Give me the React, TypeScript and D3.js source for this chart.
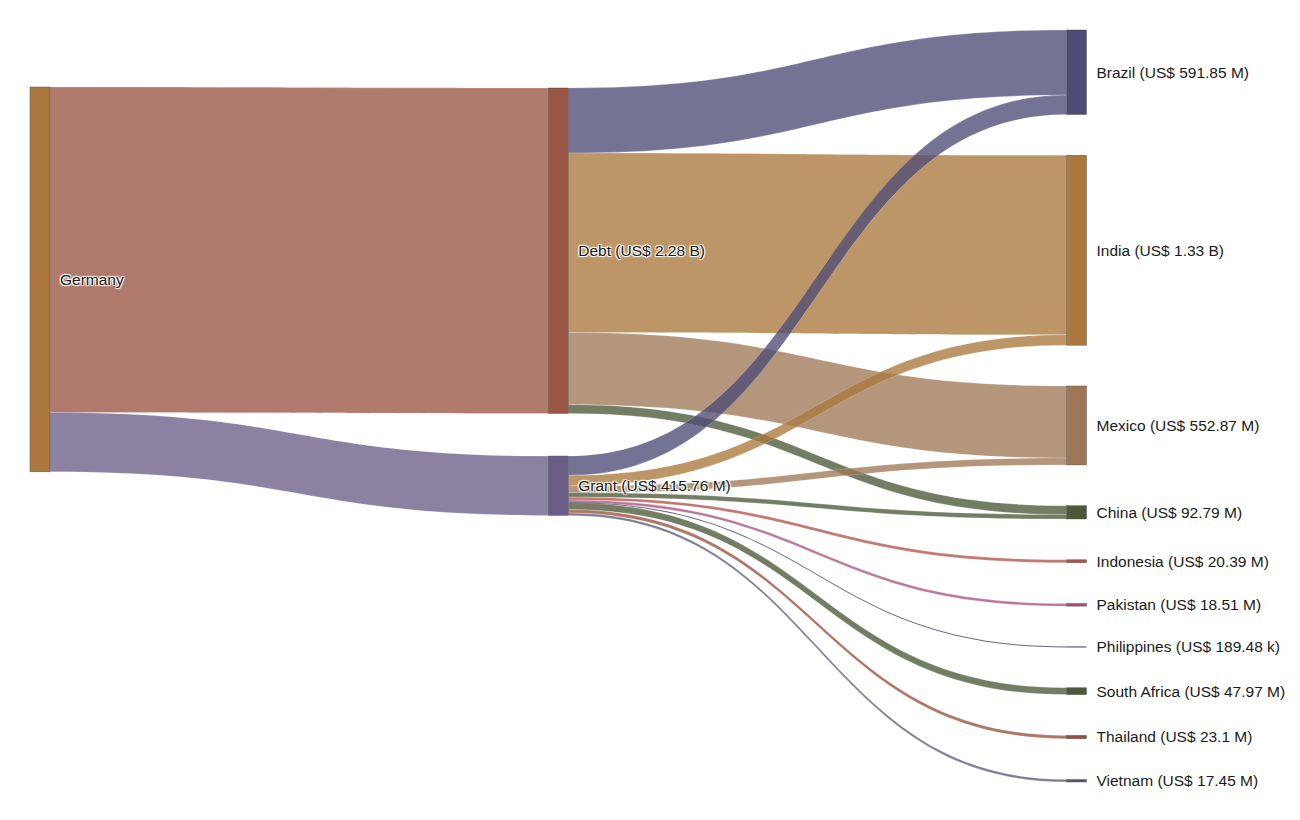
import React from "react";
import * as d3 from "d3";

// ---- Data ----
const nodeNames = [
  "Germany", "Debt", "Grant", "Brazil", "India", "Mexico", "China",
  "Indonesia", "Pakistan", "Philippines", "South Africa", "Thailand", "Vietnam",
];
const nodeLabels = [
  "Germany", "Debt (US$ 2.28 B)", "Grant (US$ 415.76 M)", "Brazil (US$ 591.85 M)",
  "India (US$ 1.33 B)", "Mexico (US$ 552.87 M)", "China (US$ 92.79 M)",
  "Indonesia (US$ 20.39 M)", "Pakistan (US$ 18.51 M)", "Philippines (US$ 189.48 k)",
  "South Africa (US$ 47.97 M)", "Thailand (US$ 23.1 M)", "Vietnam (US$ 17.45 M)",
];
const nodeColumns = [0, 1, 1, 2, 2, 2, 2, 2, 2, 2, 2, 2, 2];
const nodeColors = [
  "#ac783e", "#9a5644", "#6a5e86", "#4e4c74", "#ab783e", "#9e7856", "#4c5838",
  "#b45048", "#a8507a", "#3c3c5c", "#4c5838", "#96503c", "#5a5678",
];
// values in US$ millions
const linkSources = ["Germany", "Germany", "Debt", "Debt", "Debt", "Debt",
  "Grant", "Grant", "Grant", "Grant", "Grant", "Grant", "Grant", "Grant", "Grant", "Grant"];
const linkTargets = ["Debt", "Grant", "Brazil", "India", "Mexico", "China",
  "Brazil", "India", "Mexico", "China", "Indonesia", "Pakistan", "Philippines",
  "South Africa", "Thailand", "Vietnam"];
const linkValues = [2279.36, 415.76, 455.85, 1257, 504.87, 61.64,
  136, 73, 48, 31.15, 20.39, 18.51, 0.18948, 47.97, 23.1, 17.45];

// ---- Layout constants ----
const W = 1300, H = 820;
const X0 = 30, X1 = 1086.5, NODE_W = 20;
const Y0 = 30, Y1 = 782;
const colTop = [87, 88, 30];
const colPad = [0, 42.6, 40.8];
const LINK_OPACITY = 0.78;
const MIN_T = 1;

type N = { i: number; name: string; col: number; value: number; y0: number; y1: number; x0: number; x1: number };

function layout() {
  const nodes: N[] = nodeNames.map((name, i) => ({
    i, name, col: nodeColumns[i], value: 0, y0: 0, y1: 0, x0: 0, x1: 0,
  }));
  const idx = (n: string) => nodeNames.indexOf(n);
  const links = linkValues.map((v, k) => ({ s: idx(linkSources[k]), t: idx(linkTargets[k]), v, sy0: 0, sy1: 0, ty0: 0, ty1: 0 }));
  const outSum = new Array(nodes.length).fill(0);
  const inSum = new Array(nodes.length).fill(0);
  links.forEach((l) => { outSum[l.s] += l.v; inSum[l.t] += l.v; });
  nodes.forEach((n) => (n.value = Math.max(outSum[n.i], inSum[n.i])));
  const nCols = 3;
  const lastCol = nodes.filter((n) => n.col === 2);
  const total = d3.sum(lastCol, (n) => n.value);
  const ky = (Y1 - Y0 - colPad[2] * (lastCol.length - 1)) / total;
  const xs = d3.scaleLinear().domain([0, nCols - 1]).range([X0, X1 - NODE_W]);
  for (let c = 0; c < nCols; c++) {
    let y = colTop[c];
    nodes.filter((n) => n.col === c).forEach((n) => {
      n.x0 = xs(c); n.x1 = n.x0 + NODE_W;
      n.y0 = y; n.y1 = y + n.value * ky; y = n.y1 + colPad[c];
    });
  }
  nodes.forEach((n) => {
    const outs = links.filter((l) => l.s === n.i).sort((a, b) => nodes[a.t].y0 - nodes[b.t].y0);
    let y = n.y0;
    outs.forEach((l) => { l.sy0 = y; y += l.v * ky; l.sy1 = y; });
    const ins = links.filter((l) => l.t === n.i).sort((a, b) => nodes[a.s].y0 - nodes[b.s].y0);
    y = n.y0;
    ins.forEach((l) => { l.ty0 = y; y += l.v * ky; l.ty1 = y; });
  });
  return { nodes, links };
}

function widen(a: number, b: number): [number, number] {
  if (b - a >= MIN_T) return [a, b];
  const m = (a + b) / 2;
  return [m - MIN_T / 2, m + MIN_T / 2];
}

function linkPath(x0: number, x1: number, sa: number, sb: number, ta: number, tb: number) {
  const [a0, a1] = widen(sa, sb);
  const [b0, b1] = widen(ta, tb);
  const xm = (x0 + x1) / 2;
  const p = d3.path();
  p.moveTo(x0, a0);
  p.bezierCurveTo(xm, a0, xm, b0, x1, b0);
  p.lineTo(x1, b1);
  p.bezierCurveTo(xm, b1, xm, a1, x0, a1);
  p.closePath();
  return p.toString();
}

export default function App() {
  const { nodes, links } = layout();
  return (
    <svg width={W} height={H} style={{ display: "block", position: "absolute", left: 0, top: 0, background: "#fff" }}>
      <g>
        {links.map((l, k) => {
          const s = nodes[l.s], t = nodes[l.t];
          return (
            <path key={k} d={linkPath(s.x1, t.x0, l.sy0, l.sy1, l.ty0, l.ty1)}
              fill={nodeColors[l.t]} fillOpacity={LINK_OPACITY}
              stroke="#fff" strokeOpacity={0.4} strokeWidth={l.sy1 - l.sy0 < 2 ? 0 : 0.5} />
          );
        })}
      </g>
      <g>
        {nodes.map((n) => {
          const [y0, y1] = widen(n.y0, n.y1);
          return (
            <rect key={n.i} x={n.x0} y={y0} width={NODE_W} height={y1 - y0}
              fill={nodeColors[n.i]} stroke="#444" strokeOpacity={0.8} strokeWidth={n.y1 - n.y0 < 2 ? 0 : 0.5} />
          );
        })}
      </g>
      <g>
        {nodes.map((n) => (
          <text key={n.i} x={n.x1 + 10} y={(n.y0 + n.y1) / 2} dy="0.35em"
            fontFamily="'Liberation Sans', Arial, sans-serif" fontSize={15.5} fill="#1a1a1a"
            style={{ textShadow: "1px 1px 1px #fff, -1px -1px 1px #fff, 1px -1px 1px #fff, -1px 1px 1px #fff" }}>
            {nodeLabels[n.i]}
          </text>
        ))}
      </g>
    </svg>
  );
}
